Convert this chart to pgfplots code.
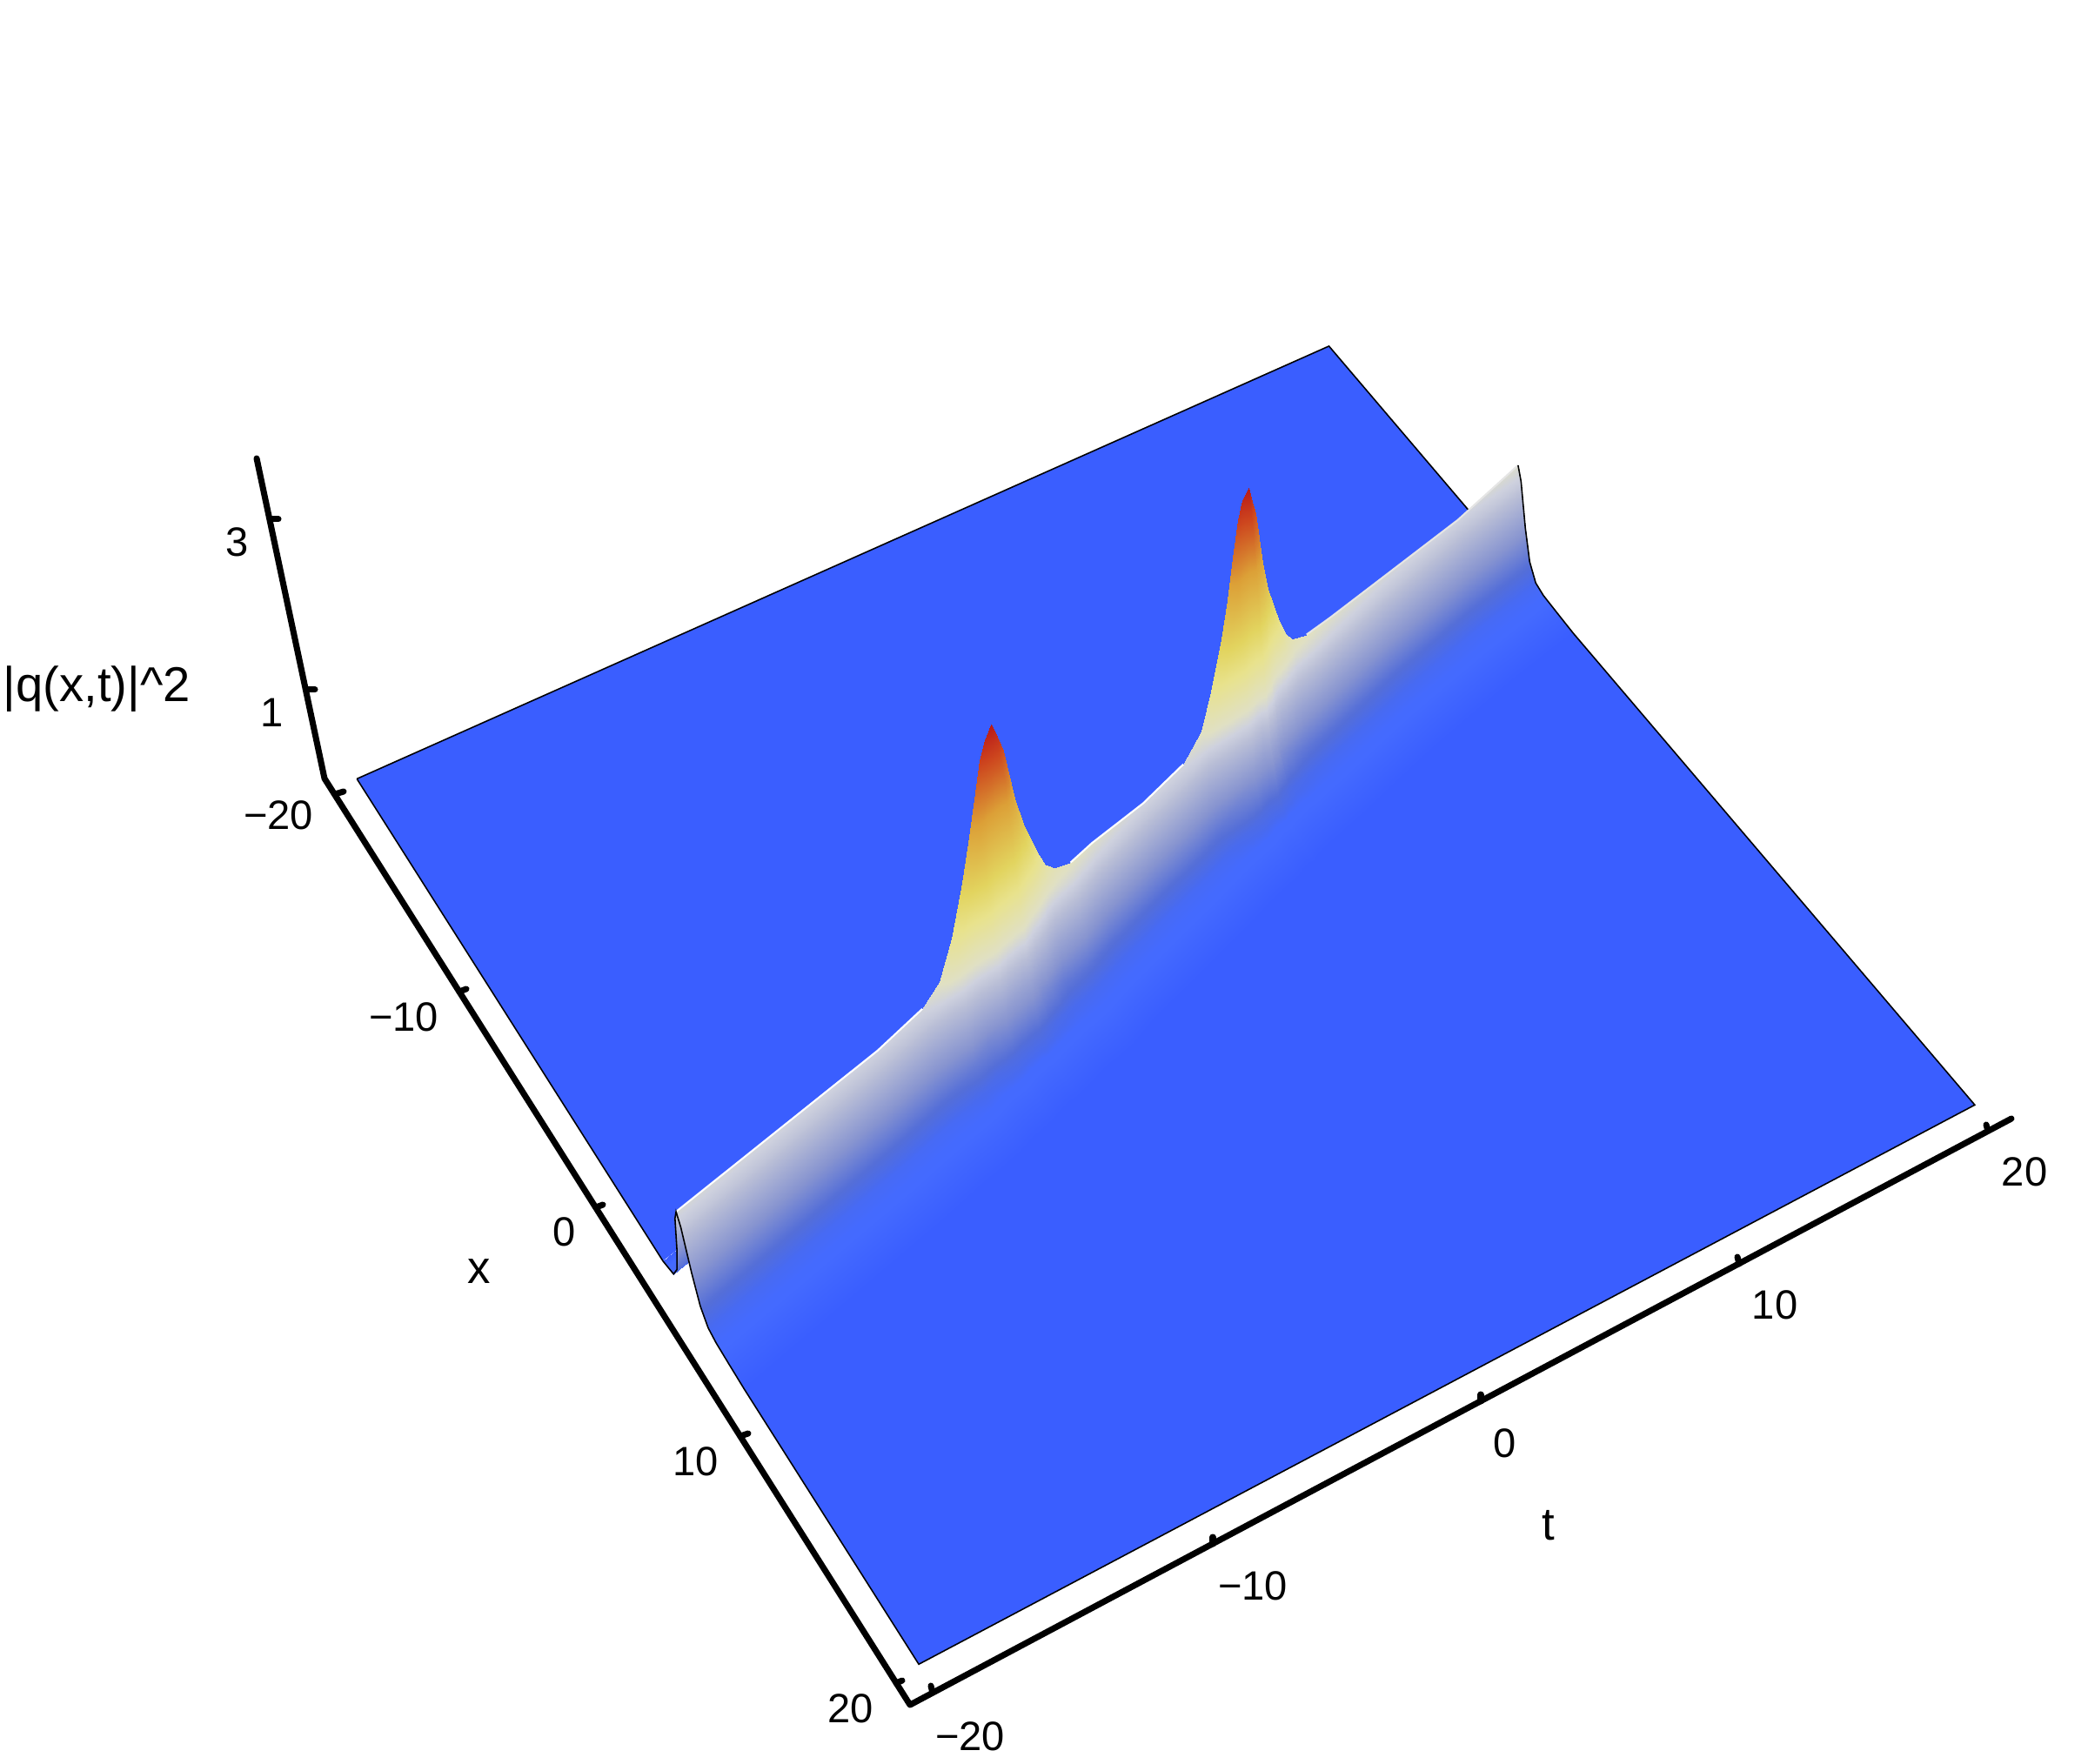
\documentclass[border=0pt]{standalone}
\usepackage{fontspec}
\setmainfont{Liberation Sans}
\usepackage{pgfplots}
\pgfplotsset{compat=1.18}

\definecolor{floorblue}{RGB}{58,94,255}
\tikzset{tick lab/.style={font=\fontsize{13.4}{14}\selectfont},
    ax lab/.style={font=\fontsize{15}{16}\selectfont}}

% perspective of the reference, from the four corners of the floor and the lean of the z axis
\newcommand\Wd{(1-0.12503*(\thisrow{x}+20)/40+0.07454*(\thisrow{t}+20)/40-0.0166*\thisrow{z})}
\newcommand\Xe{1.5306*(335.73*(\thisrow{x}+20)/40+804.39*(\thisrow{t}+20)/40+268-18.26*\thisrow{z})/\Wd}
\newcommand\Ye{1.5306*(508.71*(\thisrow{x}+20)/40-305.62*(\thisrow{t}+20)/40+585-74.7*\thisrow{z})/\Wd}

\begin{document}
\begin{tikzpicture}
\useasboundingbox (0,0) rectangle (24cm,20.27cm);
\begin{axis}[
    view={0}{90}, hide axis, scale only axis, clip=false,
    width=24cm, height=20.27cm,
    xmin=0, xmax=2400, ymin=0, ymax=2027, zmin=0, zmax=4, y dir=reverse,
    point meta min=0, point meta max=3.3,
    colormap={wave}{[1pt]
        rgb255(0pt)=(58,94,255); rgb255(1pt)=(68,106,255); rgb255(3pt)=(72,106,240);
        rgb255(8pt)=(84,110,216); rgb255(20pt)=(135,148,208); rgb255(36pt)=(185,190,214);
        rgb255(42pt)=(206,209,222); rgb255(48pt)=(224,224,195); rgb255(64pt)=(232,226,140);
        rgb255(76pt)=(226,212,95); rgb255(100pt)=(220,160,55); rgb255(120pt)=(205,70,30);
        rgb255(132pt)=(185,25,25)},
]
% floor behind and in front of the ridge
\addplot3[fill=floorblue, draw=none, no marks] table[row sep=\\, x expr=\Xe, y expr=\Ye, z expr=\thisrow{z}] {
t x z\\ 20 -20 0\\ 20 -9.3 0\\ 8.6 -5.7 0\\ -3.3 -1.4 0\\ -8.7 .4 0\\ -20 3.1 0\\ -20 -20 0\\ 20 -20 0\\};
\addplot3[fill=floorblue, draw=none, no marks] table[row sep=\\, x expr=\Xe, y expr=\Ye, z expr=\thisrow{z}] {
t x z\\ 20 20 0\\ 20 -3.7 0\\ 17 -3.2 0\\ 8.6 -.9 0\\ -3.3 3.4 0\\ -8.7 5.2 0\\ -20 8.7 0\\ -20 20 0\\ 20 20 0\\};
% far edges
\addplot3[black, line width=0.45pt, no marks] table[row sep=\\, x expr=\Xe, y expr=\Ye, z expr=\thisrow{z}] {
t x z\\ -20 -20 0\\ 20 -20 0\\ 20 -9.3 0\\};
% ridge, one line for each t, far to near
\addplot3[surf, shader=interp, z buffer=none, mesh/cols=13] table[row sep=\\, x expr=\Xe, y expr=\Ye, z expr=\thisrow{z}] {
t x z\\
20 -9.3 0\\ 20 -8.5 .06\\ 20 -8.1 .23\\ 20 -7.8 .55\\ 20 -7.5 1.01\\ 20 -7.3 1.15\\ 20 -7.1 1.01\\ 20 -6.8 .55\\ 20 -6.5 .23\\ 20 -6.1 .07\\ 20 -5.6 .03\\ 20 -4.7 .015\\ 20 -3.7 0\\
17 -8.6 0\\ 17 -7.8 .05\\ 17 -7.4 .21\\ 17 -7.1 .5\\ 17 -6.8 .92\\ 17 -6.6 1.05\\ 17 -6.4 .92\\ 17 -6.1 .5\\ 17 -5.8 .21\\ 17 -5.4 .06\\ 17 -4.9 .03\\ 17 -4 .015\\ 17 -3 0\\
13 -7.5 0\\ 13 -6.7 .06\\ 13 -6.3 .22\\ 13 -6 .53\\ 13 -5.7 .97\\ 13 -5.5 1.1\\ 13 -5.3 .97\\ 13 -5 .53\\ 13 -4.7 .22\\ 13 -4.3 .07\\ 13 -3.8 .03\\ 13 -2.9 .015\\ 13 -1.9 0\\
10.5 -6.7 0\\ 10.5 -5.9 .06\\ 10.5 -5.5 .23\\ 10.5 -5.2 .56\\ 10.5 -4.9 1.03\\ 10.5 -4.7 1.17\\ 10.5 -4.5 1.03\\ 10.5 -4.2 .56\\ 10.5 -3.9 .23\\ 10.5 -3.5 .07\\ 10.5 -3 .03\\ 10.5 -2.1 .015\\ 10.5 -1.1 0\\
9.3 -6.3 0\\ 9.3 -5.5 .06\\ 9.3 -5.1 .24\\ 9.3 -4.8 .59\\ 9.3 -4.5 1.07\\ 9.3 -4.3 1.22\\ 9.3 -4.1 1.07\\ 9.3 -3.8 .59\\ 9.3 -3.5 .24\\ 9.3 -3.1 .07\\ 9.3 -2.6 .03\\ 9.3 -1.7 .015\\ 9.3 -.7 0\\
8.6 -6.1 0\\ 8.6 -5.3 .07\\ 8.6 -4.9 .26\\ 8.6 -4.6 .62\\ 8.6 -4.3 1.14\\ 8.6 -4.1 1.3\\ 8.6 -3.9 1.14\\ 8.6 -3.6 .62\\ 8.6 -3.3 .26\\ 8.6 -2.9 .08\\ 8.6 -2.4 .03\\ 8.6 -1.5 .015\\ 8.6 -.5 0\\
8.3 -6 0\\ 8.3 -5.2 .07\\ 8.3 -4.8 .28\\ 8.3 -4.5 .68\\ 8.3 -4.2 1.25\\ 8.3 -4 1.42\\ 8.3 -3.8 1.25\\ 8.3 -3.5 .68\\ 8.3 -3.2 .28\\ 8.3 -2.8 .09\\ 8.3 -2.3 .03\\ 8.3 -1.4 .015\\ 8.3 -.4 0\\
8 -5.9 0\\ 8 -5.1 .08\\ 8 -4.7 .32\\ 8 -4.4 .78\\ 8 -4.1 1.43\\ 8 -3.9 1.62\\ 8 -3.7 1.43\\ 8 -3.4 .78\\ 8 -3.1 .32\\ 8 -2.7 .1\\ 8 -2.2 .03\\ 8 -1.3 .015\\ 8 -.3 0\\
7.55 -5.8 0\\ 7.55 -5 .1\\ 7.55 -4.6 .41\\ 7.55 -4.3 .98\\ 7.55 -4 1.8\\ 7.55 -3.8 2.05\\ 7.55 -3.6 1.8\\ 7.55 -3.3 .98\\ 7.55 -3 .41\\ 7.55 -2.6 .12\\ 7.55 -2.1 .03\\ 7.55 -1.2 .015\\ 7.55 -.2 0\\
7.3 -5.7 0\\ 7.3 -4.9 .12\\ 7.3 -4.5 .48\\ 7.3 -4.2 1.14\\ 7.3 -3.9 2.09\\ 7.3 -3.7 2.38\\ 7.3 -3.5 2.09\\ 7.3 -3.2 1.14\\ 7.3 -2.9 .48\\ 7.3 -2.5 .14\\ 7.3 -2 .03\\ 7.3 -1.1 .015\\ 7.3 -.1 0\\
7.05 -5.6 0\\ 7.05 -4.8 .15\\ 7.05 -4.4 .59\\ 7.05 -4.1 1.42\\ 7.05 -3.8 2.6\\ 7.05 -3.6 2.95\\ 7.05 -3.4 2.6\\ 7.05 -3.1 1.42\\ 7.05 -2.8 .59\\ 7.05 -2.4 .18\\ 7.05 -1.9 .03\\ 7.05 -1 .015\\ 7.05 0 0\\
6.85 -5.5 0\\ 6.85 -4.7 .16\\ 6.85 -4.3 .63\\ 6.85 -4 1.51\\ 6.85 -3.7 2.77\\ 6.85 -3.5 3.15\\ 6.85 -3.3 2.77\\ 6.85 -3 1.51\\ 6.85 -2.7 .63\\ 6.85 -2.3 .19\\ 6.85 -1.8 .03\\ 6.85 -.9 .015\\ 6.85 .1 0\\
6.7 -5.4 0\\ 6.7 -4.6 .17\\ 6.7 -4.2 .66\\ 6.7 -3.9 1.58\\ 6.7 -3.6 2.9\\ 6.7 -3.4 3.3\\ 6.7 -3.2 2.9\\ 6.7 -2.9 1.58\\ 6.7 -2.6 .66\\ 6.7 -2.2 .2\\ 6.7 -1.7 .03\\ 6.7 -.8 .015\\ 6.7 .2 0\\
6.45 -5.4 0\\ 6.45 -4.6 .16\\ 6.45 -4.2 .64\\ 6.45 -3.9 1.54\\ 6.45 -3.6 2.82\\ 6.45 -3.4 3.2\\ 6.45 -3.2 2.82\\ 6.45 -2.9 1.54\\ 6.45 -2.6 .64\\ 6.45 -2.2 .19\\ 6.45 -1.7 .03\\ 6.45 -.8 .015\\ 6.45 .2 0\\
6.2 -5.3 0\\ 6.2 -4.5 .15\\ 6.2 -4.1 .61\\ 6.2 -3.8 1.46\\ 6.2 -3.5 2.68\\ 6.2 -3.3 3.05\\ 6.2 -3.1 2.68\\ 6.2 -2.8 1.46\\ 6.2 -2.5 .61\\ 6.2 -2.1 .18\\ 6.2 -1.6 .03\\ 6.2 -.7 .015\\ 6.2 .3 0\\
5.85 -5.1 0\\ 5.85 -4.3 .14\\ 5.85 -3.9 .55\\ 5.85 -3.6 1.32\\ 5.85 -3.3 2.41\\ 5.85 -3.1 2.74\\ 5.85 -2.9 2.41\\ 5.85 -2.6 1.32\\ 5.85 -2.3 .55\\ 5.85 -1.9 .16\\ 5.85 -1.4 .03\\ 5.85 -.5 .015\\ 5.85 .5 0\\
5.5 -5 0\\ 5.5 -4.2 .12\\ 5.5 -3.8 .47\\ 5.5 -3.5 1.13\\ 5.5 -3.2 2.07\\ 5.5 -3 2.35\\ 5.5 -2.8 2.07\\ 5.5 -2.5 1.13\\ 5.5 -2.2 .47\\ 5.5 -1.8 .14\\ 5.5 -1.3 .03\\ 5.5 -.4 .015\\ 5.5 .6 0\\
5.15 -4.9 0\\ 5.15 -4.1 .1\\ 5.15 -3.7 .4\\ 5.15 -3.4 .96\\ 5.15 -3.1 1.76\\ 5.15 -2.9 2\\ 5.15 -2.7 1.76\\ 5.15 -2.4 .96\\ 5.15 -2.1 .4\\ 5.15 -1.7 .12\\ 5.15 -1.2 .03\\ 5.15 -.3 .015\\ 5.15 .7 0\\
4.55 -4.7 0\\ 4.55 -3.9 .08\\ 4.55 -3.5 .31\\ 4.55 -3.2 .74\\ 4.55 -2.9 1.36\\ 4.55 -2.7 1.55\\ 4.55 -2.5 1.36\\ 4.55 -2.2 .74\\ 4.55 -1.9 .31\\ 4.55 -1.5 .09\\ 4.55 -1 .03\\ 4.55 -.1 .015\\ 4.55 .9 0\\
4 -4.5 0\\ 4 -3.7 .06\\ 4 -3.3 .24\\ 4 -3 .59\\ 4 -2.7 1.07\\ 4 -2.5 1.22\\ 4 -2.3 1.07\\ 4 -2 .59\\ 4 -1.7 .24\\ 4 -1.3 .07\\ 4 -.8 .03\\ 4 .1 .015\\ 4 1.1 0\\
3 -4.1 0\\ 3 -3.3 .05\\ 3 -2.9 .22\\ 3 -2.6 .52\\ 3 -2.3 .95\\ 3 -2.1 1.08\\ 3 -1.9 .95\\ 3 -1.6 .52\\ 3 -1.3 .22\\ 3 -.9 .06\\ 3 -.4 .03\\ 3 .5 .015\\ 3 1.5 0\\
1 -3.4 0\\ 1 -2.6 .05\\ 1 -2.2 .21\\ 1 -1.9 .51\\ 1 -1.6 .94\\ 1 -1.4 1.07\\ 1 -1.2 .94\\ 1 -.9 .51\\ 1 -.6 .21\\ 1 -.2 .06\\ 1 .3 .03\\ 1 1.2 .015\\ 1 2.2 0\\
-1.5 -2.5 0\\ -1.5 -1.7 .06\\ -1.5 -1.3 .23\\ -1.5 -1 .56\\ -1.5 -.7 1.03\\ -1.5 -.5 1.17\\ -1.5 -.3 1.03\\ -1.5 0 .56\\ -1.5 .3 .23\\ -1.5 .7 .07\\ -1.5 1.2 .03\\ -1.5 2.1 .015\\ -1.5 3.1 0\\
-2.6 -2 0\\ -2.6 -1.2 .06\\ -2.6 -.8 .24\\ -2.6 -.5 .59\\ -2.6 -.2 1.07\\ -2.6 0 1.22\\ -2.6 .2 1.07\\ -2.6 .5 .59\\ -2.6 .8 .24\\ -2.6 1.2 .07\\ -2.6 1.7 .03\\ -2.6 2.6 .015\\ -2.6 3.6 0\\
-3.3 -1.8 0\\ -3.3 -1 .07\\ -3.3 -.6 .26\\ -3.3 -.3 .62\\ -3.3 0 1.14\\ -3.3 .2 1.3\\ -3.3 .4 1.14\\ -3.3 .7 .62\\ -3.3 1 .26\\ -3.3 1.4 .08\\ -3.3 1.9 .03\\ -3.3 2.8 .015\\ -3.3 3.8 0\\
-3.7 -1.7 0\\ -3.7 -.9 .07\\ -3.7 -.5 .28\\ -3.7 -.2 .68\\ -3.7 .1 1.25\\ -3.7 .3 1.42\\ -3.7 .5 1.25\\ -3.7 .8 .68\\ -3.7 1.1 .28\\ -3.7 1.5 .09\\ -3.7 2 .03\\ -3.7 2.9 .015\\ -3.7 3.9 0\\
-4 -1.6 0\\ -4 -.8 .08\\ -4 -.4 .32\\ -4 -.1 .78\\ -4 .2 1.43\\ -4 .4 1.62\\ -4 .6 1.43\\ -4 .9 .78\\ -4 1.2 .32\\ -4 1.6 .1\\ -4 2.1 .03\\ -4 3 .015\\ -4 4 0\\
-4.5 -1.4 0\\ -4.5 -.6 .1\\ -4.5 -.2 .41\\ -4.5 .1 .98\\ -4.5 .4 1.8\\ -4.5 .6 2.05\\ -4.5 .8 1.8\\ -4.5 1.1 .98\\ -4.5 1.4 .41\\ -4.5 1.8 .12\\ -4.5 2.3 .03\\ -4.5 3.2 .015\\ -4.5 4.2 0\\
-4.8 -1.3 0\\ -4.8 -.5 .12\\ -4.8 -.1 .48\\ -4.8 .2 1.14\\ -4.8 .5 2.09\\ -4.8 .7 2.38\\ -4.8 .9 2.09\\ -4.8 1.2 1.14\\ -4.8 1.5 .48\\ -4.8 1.9 .14\\ -4.8 2.4 .03\\ -4.8 3.3 .015\\ -4.8 4.3 0\\
-5.1 -1.2 0\\ -5.1 -.4 .15\\ -5.1 0 .59\\ -5.1 .3 1.42\\ -5.1 .6 2.6\\ -5.1 .8 2.95\\ -5.1 1 2.6\\ -5.1 1.3 1.42\\ -5.1 1.6 .59\\ -5.1 2 .18\\ -5.1 2.5 .03\\ -5.1 3.4 .015\\ -5.1 4.4 0\\
-5.3 -1.1 0\\ -5.3 -.3 .16\\ -5.3 .1 .63\\ -5.3 .4 1.51\\ -5.3 .7 2.77\\ -5.3 .9 3.15\\ -5.3 1.1 2.77\\ -5.3 1.4 1.51\\ -5.3 1.7 .63\\ -5.3 2.1 .19\\ -5.3 2.6 .03\\ -5.3 3.5 .015\\ -5.3 4.5 0\\
-5.5 -1.1 0\\ -5.5 -.3 .17\\ -5.5 .1 .66\\ -5.5 .4 1.58\\ -5.5 .7 2.9\\ -5.5 .9 3.3\\ -5.5 1.1 2.9\\ -5.5 1.4 1.58\\ -5.5 1.7 .66\\ -5.5 2.1 .2\\ -5.5 2.6 .03\\ -5.5 3.5 .015\\ -5.5 4.5 0\\
-5.8 -1 0\\ -5.8 -.2 .16\\ -5.8 .2 .64\\ -5.8 .5 1.54\\ -5.8 .8 2.82\\ -5.8 1 3.2\\ -5.8 1.2 2.82\\ -5.8 1.5 1.54\\ -5.8 1.8 .64\\ -5.8 2.2 .19\\ -5.8 2.7 .03\\ -5.8 3.6 .015\\ -5.8 4.6 0\\
-6.1 -.9 0\\ -6.1 -.1 .15\\ -6.1 .3 .61\\ -6.1 .6 1.46\\ -6.1 .9 2.68\\ -6.1 1.1 3.05\\ -6.1 1.3 2.68\\ -6.1 1.6 1.46\\ -6.1 1.9 .61\\ -6.1 2.3 .18\\ -6.1 2.8 .03\\ -6.1 3.7 .015\\ -6.1 4.7 0\\
-6.5 -.7 0\\ -6.5 .1 .14\\ -6.5 .5 .55\\ -6.5 .8 1.32\\ -6.5 1.1 2.41\\ -6.5 1.3 2.74\\ -6.5 1.5 2.41\\ -6.5 1.8 1.32\\ -6.5 2.1 .55\\ -6.5 2.5 .16\\ -6.5 3 .03\\ -6.5 3.9 .015\\ -6.5 4.9 0\\
-6.9 -.6 0\\ -6.9 .2 .12\\ -6.9 .6 .47\\ -6.9 .9 1.13\\ -6.9 1.2 2.07\\ -6.9 1.4 2.35\\ -6.9 1.6 2.07\\ -6.9 1.9 1.13\\ -6.9 2.2 .47\\ -6.9 2.6 .14\\ -6.9 3.1 .03\\ -6.9 4 .015\\ -6.9 5 0\\
-7.3 -.5 0\\ -7.3 .3 .1\\ -7.3 .7 .4\\ -7.3 1 .96\\ -7.3 1.3 1.76\\ -7.3 1.5 2\\ -7.3 1.7 1.76\\ -7.3 2 .96\\ -7.3 2.3 .4\\ -7.3 2.7 .12\\ -7.3 3.2 .03\\ -7.3 4.1 .015\\ -7.3 5.1 0\\
-8 -.2 0\\ -8 .6 .08\\ -8 1 .31\\ -8 1.3 .74\\ -8 1.6 1.36\\ -8 1.8 1.55\\ -8 2 1.36\\ -8 2.3 .74\\ -8 2.6 .31\\ -8 3 .09\\ -8 3.5 .03\\ -8 4.4 .015\\ -8 5.4 0\\
-8.7 0 0\\ -8.7 .8 .06\\ -8.7 1.2 .24\\ -8.7 1.5 .59\\ -8.7 1.8 1.07\\ -8.7 2 1.22\\ -8.7 2.2 1.07\\ -8.7 2.5 .59\\ -8.7 2.8 .24\\ -8.7 3.2 .07\\ -8.7 3.7 .03\\ -8.7 4.6 .015\\ -8.7 5.6 0\\
-9.5 .2 0\\ -9.5 1 .05\\ -9.5 1.4 .22\\ -9.5 1.7 .52\\ -9.5 2 .95\\ -9.5 2.2 1.08\\ -9.5 2.4 .95\\ -9.5 2.7 .52\\ -9.5 3 .22\\ -9.5 3.4 .06\\ -9.5 3.9 .03\\ -9.5 4.8 .015\\ -9.5 5.8 0\\
-11.5 .8 0\\ -11.5 1.6 .05\\ -11.5 2 .21\\ -11.5 2.3 .5\\ -11.5 2.6 .92\\ -11.5 2.8 1.05\\ -11.5 3 .92\\ -11.5 3.3 .5\\ -11.5 3.6 .21\\ -11.5 4 .06\\ -11.5 4.5 .03\\ -11.5 5.4 .015\\ -11.5 6.4 0\\
-20 3.1 0\\ -20 3.9 .06\\ -20 4.3 .22\\ -20 4.6 .53\\ -20 4.9 .97\\ -20 5.1 1.1\\ -20 5.3 .97\\ -20 5.6 .53\\ -20 5.9 .22\\ -20 6.3 .07\\ -20 6.8 .03\\ -20 7.7 .015\\ -20 8.7 0\\
};
% light crest of the ridge between the peaks
\addplot3[white, line width=0.6pt, no marks] table[row sep=\\, x expr=\Xe, y expr=\Ye, z expr=\thisrow{z}] {
t x z\\ -20 5.1 1.1\\ -11.5 2.8 1.05\\ -9.5 2.2 1.08\\};
\addplot3[white, line width=0.6pt, no marks] table[row sep=\\, x expr=\Xe, y expr=\Ye, z expr=\thisrow{z}] {
t x z\\ -2.6 0 1.22\\ -1.5 -.5 1.17\\ 1 -1.4 1.07\\ 3 -2.1 1.08\\};
\addplot3[white!80!gray, line width=0.6pt, no marks] table[row sep=\\, x expr=\Xe, y expr=\Ye, z expr=\thisrow{z}] {
t x z\\ 9.3 -4.3 1.22\\ 10.5 -4.7 1.17\\ 13 -5.5 1.1\\ 17 -6.6 1.05\\ 20 -7.3 1.15\\};
% near edges
\addplot3[black, line width=0.45pt, no marks] table[row sep=\\, x expr=\Xe, y expr=\Ye, z expr=\thisrow{z}] {
t x z\\
20 -7.3 1.15\\ 20 -7.1 1.01\\ 20 -6.8 .55\\ 20 -6.5 .23\\ 20 -6.1 .07\\ 20 -5.6 .03\\ 20 -4.7 .015\\ 20 -3.7 0\\ 20 20 0\\ -20 20 0\\ -20 8.7 0\\ -20 7.7 .015\\ -20 6.8 .03\\ -20 6.3 .07\\ -20 5.9 .22\\ -20 5.6 .53\\ -20 5.3 .97\\ -20 5.1 1.1\\ -20 4.9 .97\\ -20 4.6 .53\\ -20 4.3 .22\\ -20 3.9 .06\\ -20 3.1 0\\ -20 -20 0\\};
% axis lines, in picture pixels
\addplot3[black, line width=2pt, no marks, line cap=round, line join=round] coordinates {(295,527,0) (373,895,0) (1046,1960,0) (2312,1286,0)};
\foreach \a/\b/\c/\d in {310/597/320/597, 353/793/362/793, 385/913/395/910, 528/1140/536/1137, 685/1388/693/1385, 851/1651/860/1648, 1030/1935/1037/1932, 1072/1946/1070/1938, 1394/1775/1394/1767, 1702/1611/1702/1603, 1999/1453/1997/1445, 2285/1300/2283/1293}{
  \edef\temp{\noexpand\addplot3[black, line width=2pt, no marks, line cap=round] coordinates {(\a,\b,0) (\c,\d,0)};}
  \temp
}
\node[anchor=base west, inner sep=0pt, font=\fontsize{16}{17}\selectfont] at (axis cs:3,807,0) {|q(x,t)|\^{}2};
\node[tick lab] at (axis cs:273,623,0) {3};
\node[tick lab] at (axis cs:313,819,0) {1};
\node[tick lab] at (axis cs:320,937,0) {−20};
\node[tick lab] at (axis cs:464,1169,0) {−10};
\node[tick lab] at (axis cs:649,1416,0) {0};
\node[tick lab] at (axis cs:800,1680,0) {10};
\node[tick lab] at (axis cs:978,1964,0) {20};
\node[tick lab] at (axis cs:1115,1996,0) {−20};
\node[tick lab] at (axis cs:1440,1823,0) {−10};
\node[tick lab] at (axis cs:1730,1659,0) {0};
\node[tick lab] at (axis cs:2040,1500,0) {10};
\node[tick lab] at (axis cs:2327,1347,0) {20};
\node[ax lab] at (axis cs:551,1462,0) {x};
\node[ax lab] at (axis cs:1780,1754,0) {t};
\end{axis}
\end{tikzpicture}
\end{document}
